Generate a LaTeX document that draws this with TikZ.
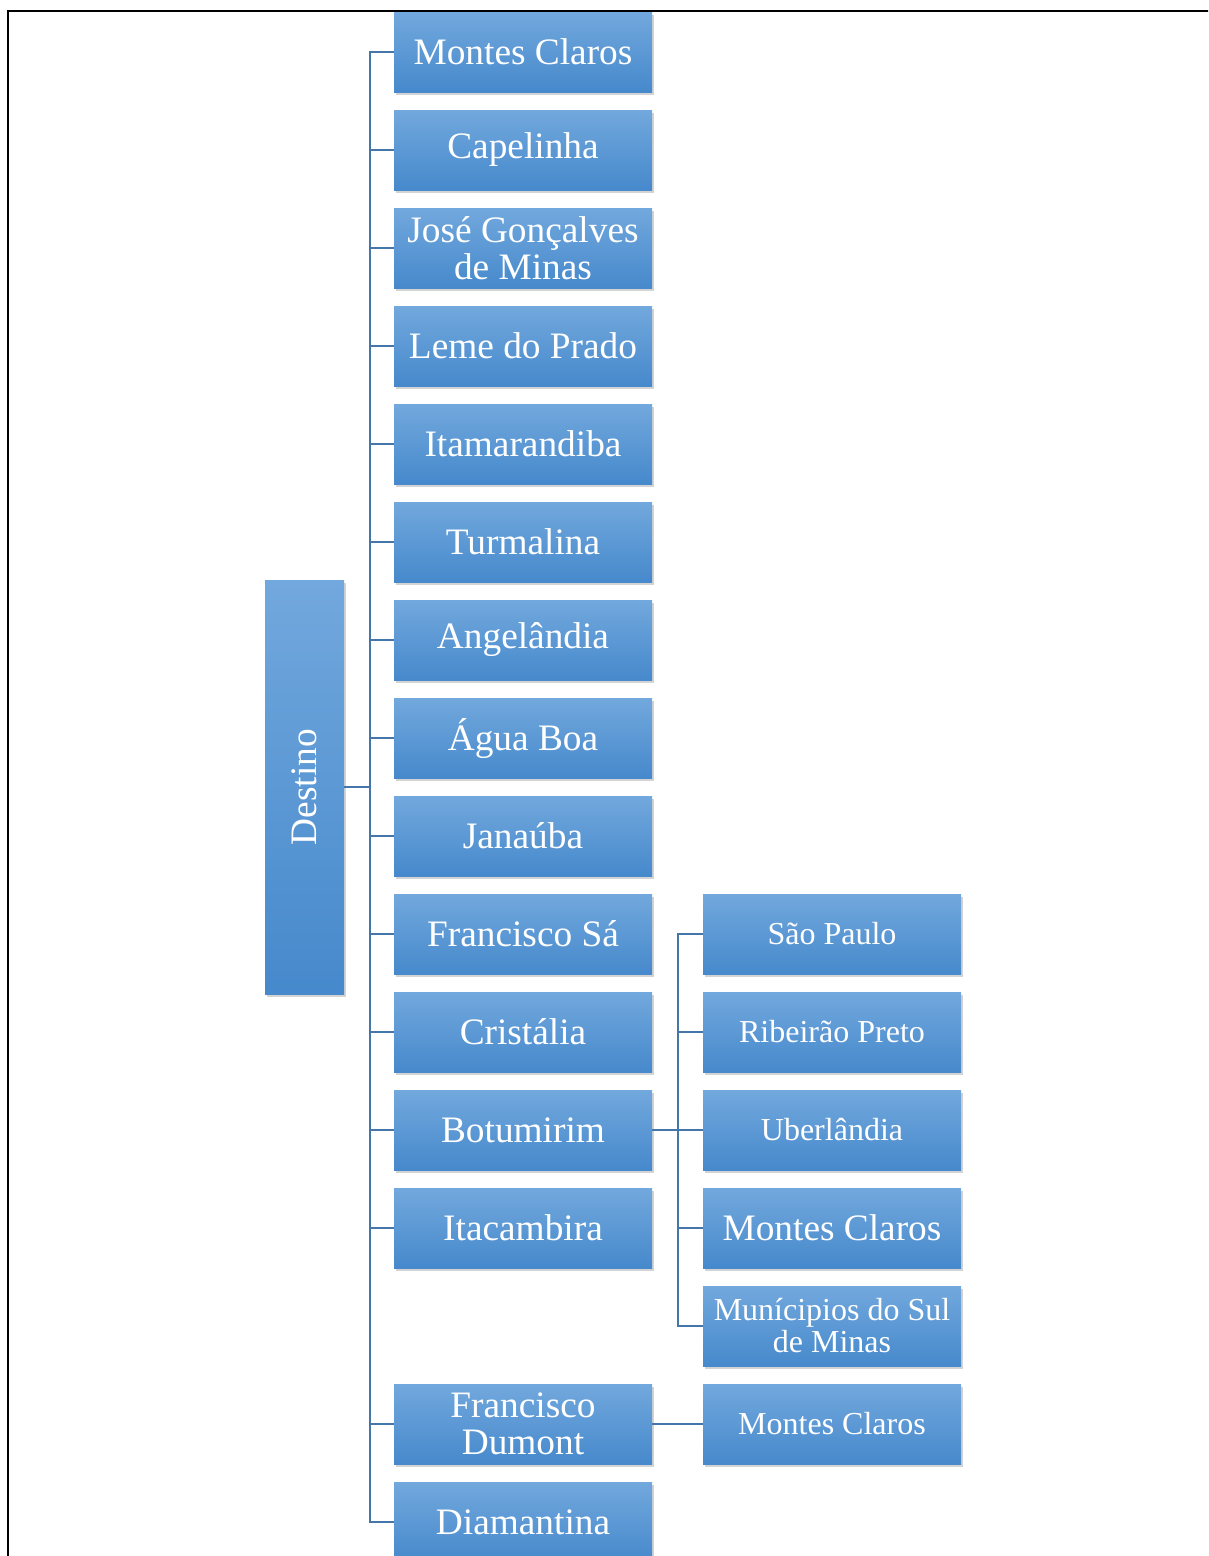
\documentclass[tikz,border=0pt]{standalone}
\usepackage{fontspec}
\setmainfont{Liberation Serif}
\usepackage{tikz}
\usetikzlibrary{positioning,shadows}

\definecolor{boxtop}{RGB}{114,168,221}
\definecolor{boxmid}{RGB}{86,154,222}
\definecolor{boxbot}{RGB}{70,137,204}
\definecolor{linkblue}{RGB}{68,118,170}

\begin{document}
\begin{tikzpicture}[
  x=0.75pt, y=-0.75pt,
  node distance=13.5pt,
  city/.style={top color=boxtop, middle color=boxmid, bottom color=boxbot, text=white, align=center,
    inner sep=2pt, outer sep=0pt,
    minimum width=193.5pt, minimum height=60pt, font=\fontsize{28}{28}\selectfont,
    drop shadow={shadow xshift=1.2pt, shadow yshift=-2.2pt, opacity=0.35}},
  subcity/.style={city, font=\fontsize{24}{24}\selectfont},
  link/.style={draw=linkblue, line width=1.8pt}
]
  \useasboundingbox (0,0) rectangle (1208,1556);
  \clip (0,0) rectangle (1208,1556);
  \draw[line width=1.5pt] (1230,11) -| (8,1580);

  % root
  \node[top color=boxtop, middle color=boxmid, bottom color=boxbot, text=white, inner sep=0pt, outer sep=0pt,
    minimum width=59.25pt, minimum height=310.5pt,
    drop shadow={shadow xshift=1.2pt, shadow yshift=-2.2pt, opacity=0.35}] (destino) at (304.5,787)
    {\rotatebox{90}{\fontsize{28}{28}\selectfont Destino}};

  % first level
  \node[city] (mclaros) at (523,52) {Montes Claros};
  \node[city, below=of mclaros] (capelinha) {Capelinha};
  \node[city, below=of capelinha] (jgminas) {José Gonçalves\\de Minas};
  \node[city, below=of jgminas] (leme) {Leme do Prado};
  \node[city, below=of leme] (itamar) {Itamarandiba};
  \node[city, below=of itamar] (turmalina) {Turmalina};
  \node[city, below=of turmalina] (angelandia) {Angelândia};
  \node[city, below=of angelandia] (aguaboa) {Água Boa};
  \node[city, below=of aguaboa] (janauba) {Janaúba};
  \node[city, below=of janauba] (fsa) {Francisco Sá};
  \node[city, below=of fsa] (cristalia) {Cristália};
  \node[city, below=of cristalia] (botumirim) {Botumirim};
  \node[city, below=of botumirim] (itacambira) {Itacambira};
  \node[city, below=87pt of itacambira] (fdumont) {Francisco\\Dumont};
  \node[city, below=of fdumont] (diamantina) {Diamantina};

  % second level
  \node[subcity, right=38.25pt of fsa] (spaulo) {São Paulo};
  \node[subcity, right=38.25pt of cristalia] (rpreto) {Ribeirão Preto};
  \node[subcity, right=38.25pt of botumirim] (uberlandia) {Uberlândia};
  \node[city, right=38.25pt of itacambira] (mclarosb) {Montes Claros};
  \node[subcity, below=of mclarosb] (sulminas) {Munícipios do Sul\\de Minas};
  \node[subcity, right=38.25pt of fdumont] (mclarosc) {Montes Claros};

  \path (destino.east) ++(26,0) coordinate (trunk);
  \path (botumirim.east) ++(26,0) coordinate (fork);

  \draw[link] (destino.east) -- (trunk);
  \draw[link] (trunk) |- (mclaros.west);
  \draw[link] (trunk) |- (capelinha.west);
  \draw[link] (trunk) |- (jgminas.west);
  \draw[link] (trunk) |- (leme.west);
  \draw[link] (trunk) |- (itamar.west);
  \draw[link] (trunk) |- (turmalina.west);
  \draw[link] (trunk) |- (angelandia.west);
  \draw[link] (trunk) |- (aguaboa.west);
  \draw[link] (trunk) |- (janauba.west);
  \draw[link] (trunk) |- (fsa.west);
  \draw[link] (trunk) |- (cristalia.west);
  \draw[link] (trunk) |- (botumirim.west);
  \draw[link] (trunk) |- (itacambira.west);
  \draw[link] (trunk) |- (fdumont.west);
  \draw[link] (trunk) |- (diamantina.west);

  \draw[link] (botumirim.east) -- (fork);
  \draw[link] (fork) |- (spaulo.west);
  \draw[link] (fork) |- (rpreto.west);
  \draw[link] (fork) |- (uberlandia.west);
  \draw[link] (fork) |- (mclarosb.west);
  \draw[link] (fork) |- (sulminas.west);
  \draw[link] (fdumont.east) -- (mclarosc.west);
\end{tikzpicture}
\end{document}
